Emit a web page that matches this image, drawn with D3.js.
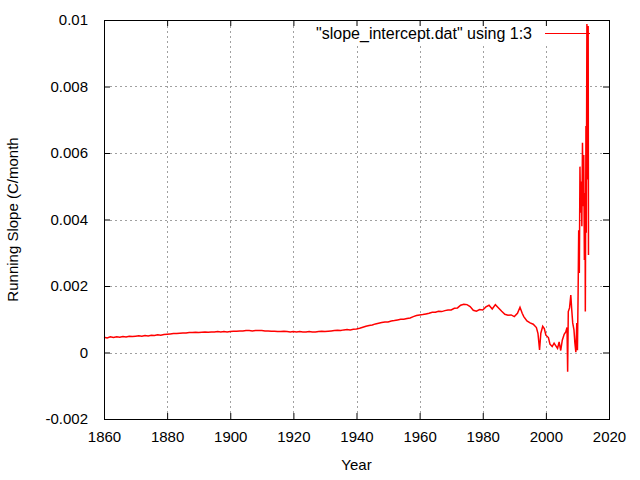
<!DOCTYPE html>
<html><head><meta charset="utf-8">
<script src="https://cdn.jsdelivr.net/npm/d3@7"></script>
<style>body{margin:0;background:#fff}svg{display:block}text{font-family:"Liberation Sans",Arial,sans-serif;font-size:15px;fill:#000}</style>
</head><body>
<script>
const years = [
1860,1861,1862,1863,1864,1865,1866,1867,1868,1869,
1870,1871,1872,1873,1874,1875,1876,1877,1878,1879,
1880,1881,1882,1883,1884,1885,1886,1887,1888,1889,
1890,1891,1892,1893,1894,1895,1896,1897,1898,1899,
1900,1901,1902,1903,1904,1905,1906,1907,1908,1909,
1910,1911,1912,1913,1914,1915,1916,1917,1918,1919,
1920,1921,1922,1923,1924,1925,1926,1927,1928,1929,
1930,1931,1932,1933,1934,1935,1936,1937,1938,1939,
1940,1941,1942,1943,1944,1945,1946,1947,1948,1949,
1950,1951,1952,1953,1954,1955,1956,1957,1958,1959,
1960,1961,1962,1963,1964,1965,1966,1967,1968,1969,
1970,1971,1972,1973,1974,1975,1976,1977,1978,1979,
1980,1981,1982,1983,1984,1985,1986,1987,1988,1989,
1990,1991,1991.8,1992.5,1993,1994,1995,1996,1997,1997.5,
1998,1998.4,1999,1999.5,2000,2000.8,2001.3,2002,2002.6,2003,
2003.7,2004.2,2004.7,2005.2,2005.8,2006.3,2006.7,2006.9,2007.1,2007.5,
2007.9,2008.2,2008.5,2008.9,2009.2,2009.5,2009.8,2010.0,2010.2,2010.4,
2010.6,2010.8,2011.0,2011.2,2011.4,2011.6,2011.8,2012.0,2012.2,2012.4,
2012.5,2012.7,2012.8,2013.0,2013.2,2013.4,2013.5
];
const slopes = [
0.00046,0.00044,0.00047,0.00045,0.00047,0.00046,0.00048,0.00047,0.00049,0.00048,
0.00049,0.00050,0.00049,0.00051,0.00050,0.00052,0.00051,0.00053,0.00052,0.00054,
0.00055,0.00056,0.00057,0.00057,0.00058,0.00059,0.00059,0.00060,0.00060,0.00061,
0.00060,0.00061,0.00062,0.00061,0.00062,0.00062,0.00063,0.00062,0.00063,0.00062,
0.00063,0.00064,0.00064,0.00065,0.00065,0.00066,0.00066,0.00065,0.00066,0.00066,
0.00066,0.00065,0.00065,0.00064,0.00064,0.00063,0.00063,0.00064,0.00063,0.00062,
0.00063,0.00062,0.00063,0.00062,0.00062,0.00063,0.00062,0.00062,0.00063,0.00064,
0.00063,0.00064,0.00065,0.00066,0.00067,0.00066,0.00068,0.00069,0.00068,0.00070,
0.00071,0.00073,0.00076,0.00079,0.00081,0.00083,0.00086,0.00088,0.00090,0.00092,
0.00092,0.00095,0.00096,0.00098,0.00100,0.00100,0.00102,0.00104,0.00108,0.00111,
0.00113,0.00114,0.00116,0.00118,0.00121,0.00121,0.00124,0.00123,0.00126,0.00128,
0.00128,0.00133,0.00134,0.00142,0.00145,0.00144,0.00138,0.00127,0.00124,0.00129,
0.00128,0.00137,0.00142,0.00131,0.00144,0.00134,0.00124,0.00115,0.00112,0.00113,
0.00108,0.00118,0.00136,0.00118,0.00108,0.00095,0.00089,0.00085,0.00075,0.00057,
0.00008,0.00058,0.00079,0.00072,0.00052,0.00045,0.00025,0.00018,0.00028,0.00022,
0.00012,0.00032,0.00006,0.00037,0.00055,0.00062,0.00075,-0.00058,0.00123,0.00134,
0.00173,0.00128,0.00089,0.00068,0.00028,0.00001,0.00089,0.00007,0.00168,0.00368,
0.00239,0.00559,0.00420,0.00514,0.00380,0.00631,0.00440,0.00594,0.00278,0.00480,
0.00123,0.00681,0.00360,0.00988,0.00520,0.00982,0.00293
];
const xTicks = [1860,1880,1900,1920,1940,1960,1980,2000,2020];
const yTicks = [-0.002,0,0.002,0.004,0.006,0.008,0.01];
const yTickLabels = ["-0.002","0","0.002","0.004","0.006","0.008","0.01"];
const legendLabel = "\"slope_intercept.dat\" using 1:3";
const xTitle = "Year";
const yTitle = "Running Slope (C/month";

const W=640,H=480, L=104,R=609,T=20,B=419;
const svg = d3.select("body").append("svg").attr("width",W).attr("height",H);
const x = d3.scaleLinear().domain([1860,2020]).range([L,R]);
const y = d3.scaleLinear().domain([-0.002,0.01]).range([B,T]);
const tl = 6;

// grid
const g = svg.append("g").attr("stroke","#a0a0a0").attr("stroke-width",1).attr("stroke-dasharray","2,3");
xTicks.slice(1,-1).forEach(v=>{
  const px=Math.round(x(v))+0.5;
  g.append("line").attr("x1",px).attr("x2",px).attr("y1",T+tl).attr("y2",B-tl);
});
yTicks.slice(1,-1).forEach(v=>{
  const py=Math.round(y(v))+0.5;
  g.append("line").attr("x1",L+tl).attr("x2",R-tl).attr("y1",py).attr("y2",py);
});
// key area blanks grid
svg.append("rect").attr("x",300).attr("y",T+1).attr("width",R-301).attr("height",22).attr("fill","#fff");

// data
const pts = years.map((yr,i)=>[yr,slopes[i]]);
svg.append("path").datum(pts)
  .attr("d",d3.line().x(d=>x(d[0])).y(d=>y(d[1])))
  .attr("fill","none").attr("stroke","#ff0000").attr("stroke-width",1.5).attr("stroke-linejoin","miter");

// axes with inward ticks on all sides
const ax = svg.append("g");
ax.append("g").attr("transform",`translate(0,${B})`)
  .call(d3.axisBottom(x).tickValues(xTicks).tickFormat(d3.format("d")).tickSizeInner(-tl).tickSizeOuter(0).tickPadding(12));
ax.append("g").attr("transform",`translate(0,${T})`)
  .call(d3.axisTop(x).tickValues(xTicks).tickFormat("").tickSizeInner(-tl).tickSizeOuter(0));
ax.append("g").attr("transform",`translate(${L},0)`)
  .call(d3.axisLeft(y).tickValues(yTicks).tickFormat((d,i)=>yTickLabels[i]).tickSizeInner(-tl).tickSizeOuter(0).tickPadding(16));
ax.append("g").attr("transform",`translate(${R},0)`)
  .call(d3.axisRight(y).tickValues(yTicks).tickFormat("").tickSizeInner(-tl).tickSizeOuter(0));
ax.selectAll(".domain").remove();
ax.selectAll("text").style("font-family","\"Liberation Sans\",Arial,sans-serif").style("font-size","15px").attr("fill","#000");
ax.selectAll("line").attr("stroke","#000");
svg.append("rect").attr("x",L+0.5).attr("y",T+0.5).attr("width",R-L).attr("height",B-T)
  .attr("fill","none").attr("stroke","#000").attr("stroke-width",1);

// legend
svg.append("text").attr("x",532).attr("y",33).attr("dy","0.35em").attr("text-anchor","end").style("font-size","16px").text(legendLabel);
svg.append("line").attr("x1",545).attr("x2",590).attr("y1",33.5).attr("y2",33.5).attr("stroke","#ff0000").attr("stroke-width",1);

// titles
svg.append("text").attr("x",(L+R)/2).attr("y",465).attr("dy","0.35em").attr("text-anchor","middle").text(xTitle);
svg.append("text").attr("transform",`translate(13,${(T+B)/2}) rotate(-90)`).attr("dy","0.35em").attr("text-anchor","middle").text(yTitle);
</script>
</body></html>
